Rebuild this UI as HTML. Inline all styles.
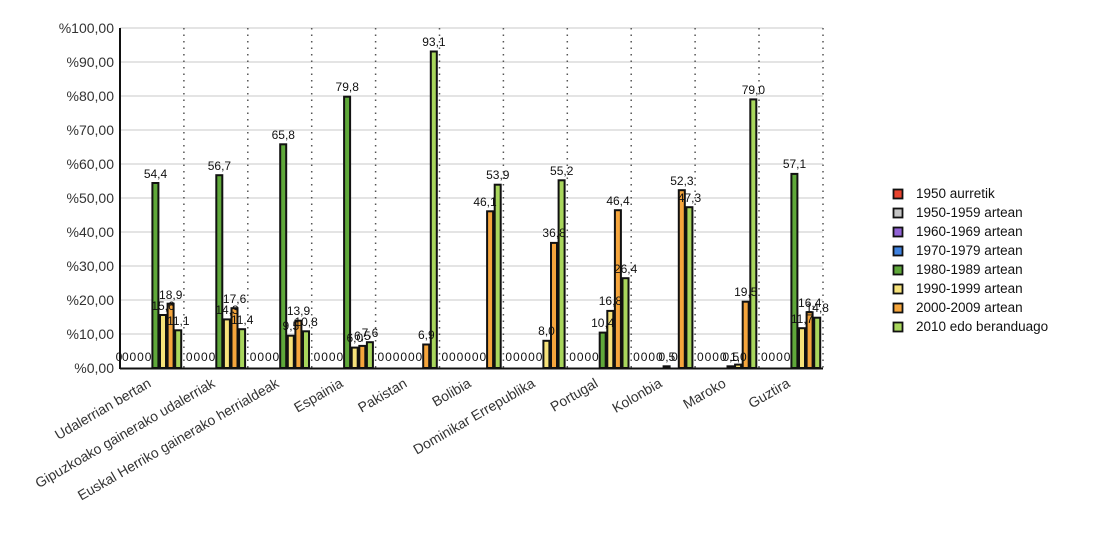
<!DOCTYPE html>
<html><head><meta charset="utf-8"><style>
body{margin:0;background:#fff;}
svg{display:block;font-family:"Liberation Sans",sans-serif;}
</style></head><body>
<svg width="1100" height="550" viewBox="0 0 1100 550" xmlns="http://www.w3.org/2000/svg">
<rect width="1100" height="550" fill="#fff"/>
<g stroke="#dcdcdc" stroke-width="1.5">
<line x1="120" x2="823" y1="334" y2="334"/><line x1="120" x2="823" y1="300" y2="300"/>
<line x1="120" x2="823" y1="266" y2="266"/><line x1="120" x2="823" y1="232" y2="232"/>
<line x1="120" x2="823" y1="198" y2="198"/><line x1="120" x2="823" y1="164" y2="164"/>
<line x1="120" x2="823" y1="130" y2="130"/><line x1="120" x2="823" y1="96" y2="96"/>
<line x1="120" x2="823" y1="62" y2="62"/><line x1="120" x2="823" y1="28" y2="28"/>
</g>
<g stroke="#555" stroke-width="1.5" stroke-dasharray="1.5,5">
<line x1="183.9" x2="183.9" y1="28" y2="368"/><line x1="247.8" x2="247.8" y1="28" y2="368"/>
<line x1="311.7" x2="311.7" y1="28" y2="368"/><line x1="375.6" x2="375.6" y1="28" y2="368"/>
<line x1="439.5" x2="439.5" y1="28" y2="368"/><line x1="503.4" x2="503.4" y1="28" y2="368"/>
<line x1="567.3" x2="567.3" y1="28" y2="368"/><line x1="631.2" x2="631.2" y1="28" y2="368"/>
<line x1="695.1" x2="695.1" y1="28" y2="368"/><line x1="759" x2="759" y1="28" y2="368"/>
<line x1="823" x2="823" y1="28" y2="368"/>
</g>
<g font-size="14" fill="#333" text-anchor="end">
<text x="114" y="373">%0,00</text><text x="114" y="339">%10,00</text><text x="114" y="305">%20,00</text>
<text x="114" y="271">%30,00</text><text x="114" y="237">%40,00</text><text x="114" y="203">%50,00</text>
<text x="114" y="169">%60,00</text><text x="114" y="135">%70,00</text><text x="114" y="101">%80,00</text>
<text x="114" y="67">%90,00</text><text x="114" y="33">%100,00</text>
</g>
<g stroke="#111" stroke-width="2">
<rect x="152.4" y="183" width="6" height="185" fill="#5fa83a"/>
<rect x="160" y="315" width="6" height="53" fill="#f6e27a"/>
<rect x="167.6" y="303.7" width="6" height="64.3" fill="#f5a53c"/>
<rect x="175.2" y="330.3" width="6" height="37.7" fill="#a8d65c"/>
<rect x="216.3" y="175.2" width="6" height="192.8" fill="#5fa83a"/>
<rect x="223.9" y="319.4" width="6" height="48.6" fill="#f6e27a"/>
<rect x="231.5" y="308.2" width="6" height="59.8" fill="#f5a53c"/>
<rect x="239.1" y="329.2" width="6" height="38.8" fill="#a8d65c"/>
<rect x="280.2" y="144.3" width="6" height="223.7" fill="#5fa83a"/>
<rect x="287.8" y="335.7" width="6" height="32.3" fill="#f6e27a"/>
<rect x="295.4" y="320.7" width="6" height="47.3" fill="#f5a53c"/>
<rect x="303" y="331.3" width="6" height="36.7" fill="#a8d65c"/>
<rect x="344.1" y="96.7" width="6" height="271.3" fill="#5fa83a"/>
<rect x="351.7" y="347.6" width="6" height="20.4" fill="#f6e27a"/>
<rect x="359.3" y="345.9" width="6" height="22.1" fill="#f5a53c"/>
<rect x="366.9" y="342.2" width="6" height="25.8" fill="#a8d65c"/>
<rect x="423.2" y="344.5" width="6" height="23.5" fill="#f5a53c"/>
<rect x="430.8" y="51.5" width="6" height="316.5" fill="#a8d65c"/>
<rect x="487.1" y="211.3" width="6" height="156.7" fill="#f5a53c"/>
<rect x="494.7" y="184.7" width="6" height="183.3" fill="#a8d65c"/>
<rect x="543.4" y="340.8" width="6" height="27.2" fill="#f6e27a"/>
<rect x="551" y="242.9" width="6" height="125.1" fill="#f5a53c"/>
<rect x="558.6" y="180.3" width="6" height="187.7" fill="#a8d65c"/>
<rect x="599.7" y="332.6" width="6" height="35.4" fill="#5fa83a"/>
<rect x="607.3" y="310.9" width="6" height="57.1" fill="#f6e27a"/>
<rect x="614.9" y="210.2" width="6" height="157.8" fill="#f5a53c"/>
<rect x="622.5" y="278.2" width="6" height="89.8" fill="#a8d65c"/>
<rect x="663.6" y="366.3" width="6" height="1.7" fill="#5fa83a"/>
<rect x="678.8" y="190.2" width="6" height="177.8" fill="#f5a53c"/>
<rect x="686.4" y="207.2" width="6" height="160.8" fill="#a8d65c"/>
<rect x="727.5" y="366.3" width="6" height="1.7" fill="#5fa83a"/>
<rect x="735.1" y="364.6" width="6" height="3.4" fill="#f6e27a"/>
<rect x="742.7" y="301.7" width="6" height="66.3" fill="#f5a53c"/>
<rect x="750.3" y="99.4" width="6" height="268.6" fill="#a8d65c"/>
<rect x="791.4" y="173.9" width="6" height="194.1" fill="#5fa83a"/>
<rect x="799" y="328.2" width="6" height="39.8" fill="#f6e27a"/>
<rect x="806.6" y="312.2" width="6" height="55.8" fill="#f5a53c"/>
<rect x="814.2" y="317.7" width="6" height="50.3" fill="#a8d65c"/>
</g>
<line x1="120" x2="823" y1="368.5" y2="368.5" stroke="#111" stroke-width="2"/>
<line x1="120" x2="120" y1="28" y2="369" stroke="#111" stroke-width="2"/>
<g font-size="12" fill="#111" text-anchor="middle">
<text x="155.5" y="178">54,4</text><text x="163" y="310">15,6</text><text x="170.7" y="299">18,9</text><text x="178.3" y="325">11,1</text>
<text x="219.4" y="170">56,7</text><text x="227" y="314">14,3</text><text x="234.6" y="303">17,6</text><text x="242.2" y="324">11,4</text>
<text x="283.3" y="139">65,8</text><text x="290.9" y="330">9,5</text><text x="298.5" y="315">13,9</text><text x="306.1" y="326">10,8</text>
<text x="347.2" y="91">79,8</text><text x="354.8" y="342">6,0</text><text x="362.4" y="340">6,5</text><text x="370" y="337">7,6</text>
<text x="426.3" y="339">6,9</text><text x="433.9" y="46">93,1</text>
<text x="485" y="206">46,1</text><text x="497.8" y="179">53,9</text>
<text x="546.5" y="335">8,0</text><text x="554.1" y="237">36,8</text><text x="561.7" y="175">55,2</text>
<text x="602.8" y="327">10,4</text><text x="610.4" y="305">16,8</text><text x="618" y="205">46,4</text><text x="625.6" y="273">26,4</text>
<text x="681.9" y="185">52,3</text><text x="689.5" y="202">47,3</text>
<text x="745.8" y="296">19,5</text><text x="753.4" y="94">79,0</text>
<text x="794.5" y="168">57,1</text><text x="802.1" y="323">11,7</text><text x="809.7" y="307">16,4</text><text x="817.3" y="312">14,8</text>
<text x="666.9" y="361">0,5</text><text x="730.8" y="361">0,5</text><text x="738.4" y="361">1,0</text>
<text y="361" x="119 125.3 132.9 140.5 148.1">00000</text>
<text y="361" x="189.2 196.8 204.4 212">0000</text>
<text y="361" x="253.1 260.7 268.3 275.9">0000</text>
<text y="361" x="317 324.6 332.2 339.8">0000</text>
<text y="361" x="380.9 388.5 396.1 403.7 411.3 418.9">000000</text>
<text y="361" x="444.8 452.4 460 467.6 475.2 482.8">000000</text>
<text y="361" x="508.7 516.3 523.9 531.5 539.1">00000</text>
<text y="361" x="572.6 580.2 587.8 595.4">0000</text>
<text y="361" x="636.5 644.1 651.7 659.3 674.5">00000</text>
<text y="361" x="700.4 708 715.6 723.2">0000</text>
<text y="361" x="764.3 771.9 779.5 787.1">0000</text>
</g>
<g font-size="14" fill="#333" text-anchor="end">
<text transform="translate(152,386) rotate(-30)">Udalerrian bertan</text>
<text transform="translate(216,386) rotate(-30)">Gipuzkoako gainerako udalerriak</text>
<text transform="translate(280,386) rotate(-30)">Euskal Herriko gainerako herrialdeak</text>
<text transform="translate(344,386) rotate(-30)">Espainia</text>
<text transform="translate(408,386) rotate(-30)">Pakistan</text>
<text transform="translate(472,386) rotate(-30)">Bolibia</text>
<text transform="translate(536,386) rotate(-30)">Dominikar Errepublika</text>
<text transform="translate(599,386) rotate(-30)">Portugal</text>
<text transform="translate(663,386) rotate(-30)">Kolonbia</text>
<text transform="translate(727,386) rotate(-30)">Maroko</text>
<text transform="translate(791,386) rotate(-30)">Guztira</text>
</g>
<g stroke="#111" stroke-width="1.8">
<rect x="893.5" y="189.5" width="9" height="9" fill="#e8432e"/>
<rect x="893.5" y="208.5" width="9" height="9" fill="#c4c4c4"/>
<rect x="893.5" y="227.5" width="9" height="9" fill="#9263d6"/>
<rect x="893.5" y="246.5" width="9" height="9" fill="#3f82e0"/>
<rect x="893.5" y="265.5" width="9" height="9" fill="#5fa83a"/>
<rect x="893.5" y="284.5" width="9" height="9" fill="#f6e27a"/>
<rect x="893.5" y="303.5" width="9" height="9" fill="#f5a53c"/>
<rect x="893.5" y="322.5" width="9" height="9" fill="#a8d65c"/>
</g>
<g font-size="13.5" fill="#111">
<text x="916" y="198">1950 aurretik</text>
<text x="916" y="217">1950-1959 artean</text>
<text x="916" y="236">1960-1969 artean</text>
<text x="916" y="255">1970-1979 artean</text>
<text x="916" y="274">1980-1989 artean</text>
<text x="916" y="293">1990-1999 artean</text>
<text x="916" y="312">2000-2009 artean</text>
<text x="916" y="331">2010 edo beranduago</text>
</g>
</svg>
</body></html>
